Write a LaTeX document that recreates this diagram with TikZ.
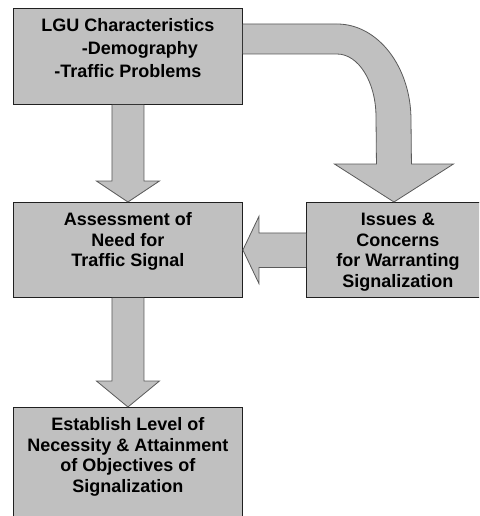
\documentclass[tikz,border=0pt]{standalone}
\usepackage{fontspec}
\setmainfont{Liberation Sans}
\usetikzlibrary{calc}

\definecolor{boxgray}{HTML}{C0C0C0}
\definecolor{edgegray}{HTML}{5A5A5A}
\definecolor{boxedge}{HTML}{202020}

% top-aligned, centred text block of a given width and height
\newcommand{\stagetext}[4]{%
  \parbox[c][#2pt][t]{#1pt}{\centering\fontsize{18pt}{#3pt}\selectfont\bfseries
    \rule{0pt}{23pt}#4\par}}

\tikzset{
  stagebox/.style={draw=boxedge, line width=0.9pt, fill=boxgray,
                   inner sep=0pt, anchor=north west},
  blockarrow/.style={draw=edgegray, line width=0.8pt, fill=boxgray,
                     line join=miter},
}

\begin{document}
\begin{tikzpicture}[x=1pt, y=-1pt]
  \useasboundingbox (0,0) rectangle (479,516);
  \clip (0,0) rectangle (479,516);

  % stages
  \node[stagebox] (lgu) at (13,8)
    {\stagetext{229}{96}{23}{LGU Characteristics\\
      \hspace*{24pt}-Demography\\
      -Traffic Problems}};
  \node[stagebox] (assess) at (13,202)
    {\stagetext{229}{95}{20.7}{Assessment of\\Need for\\Traffic Signal}};
  \node[stagebox] (issues) at (306,202)
    {\stagetext{183}{95}{20.7}{Issues \&\\Concerns\\for Warranting\\Signalization}};
  \node[stagebox] (establish) at (13,407)
    {\stagetext{229}{125}{20.7}{Establish Level of\\Necessity \& Attainment\\of Objectives of\\Signalization}};

  % straight down arrows (open along the box edge they leave)
  \filldraw[blockarrow]
    ($(lgu.south)+(-16,0)$) -- ($(assess.north)+(-16,-21)$)
    -- ($(assess.north)+(-31.5,-21)$) -- (assess.north)
    -- ($(assess.north)+(31.5,-21)$) -- ($(assess.north)+(16,-21)$)
    -- ($(lgu.south)+(16,0)$);
  \filldraw[blockarrow]
    ($(assess.south)+(-16,0)$) -- ($(establish.north)+(-16,-26)$)
    -- ($(establish.north)+(-31.5,-26)$) -- (establish.north)
    -- ($(establish.north)+(31.5,-26)$) -- ($(establish.north)+(16,-26)$)
    -- ($(assess.south)+(16,0)$);

  % left arrow from issues to assessment
  \filldraw[blockarrow]
    ($(issues.west)+(0,-17)$) -- ($(assess.east)+(16,-17)$)
    -- ($(assess.east)+(16,-33.5)$) -- (assess.east)
    -- ($(assess.east)+(16,33.5)$) -- ($(assess.east)+(16,17.5)$)
    -- ($(issues.west)+(0,17.5)$);

  % bent arrow from the characteristics box down to the issues box
  \coordinate (bendtip) at ($(issues.north)+(-4,0)$);
  \filldraw[blockarrow]
    ($(lgu.north east)+(0,46)$) -- (337,54)
    .. controls (358.5,54) and (376,82) .. (376,117)
    -- ($(bendtip)+(-17.5,-38)$) -- ($(bendtip)+(-59.5,-38)$)
    -- (bendtip)
    -- ($(bendtip)+(59.5,-38)$) -- ($(bendtip)+(17.5,-38)$)
    -- (411,120)
    .. controls (411,67) and (378,24) .. (337,24)
    -- ($(lgu.north east)+(0,16)$);
\end{tikzpicture}
\end{document}
